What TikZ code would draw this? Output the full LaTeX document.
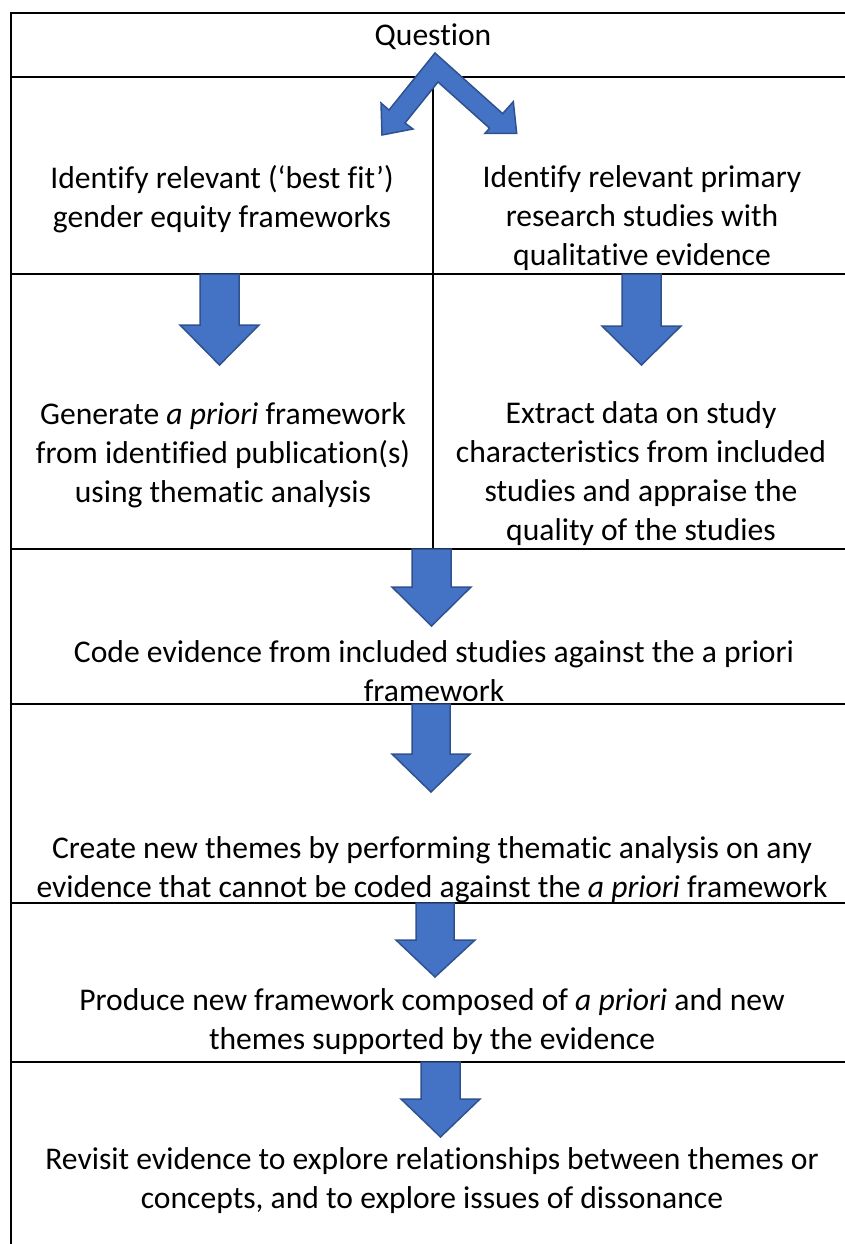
\documentclass[tikz,border=0pt]{standalone}
\usepackage{fontspec}
\setmainfont{Carlito}[Ligatures=NoCommon]
\definecolor{arrowblue}{HTML}{4472C4}
\definecolor{arrowedge}{HTML}{2F528F}
\tikzset{
  steptext/.style={align=center, font=\fontsize{15.8}{19.5}\selectfont, inner sep=0pt},
  blockarrow/.style={fill=arrowblue, draw=arrowedge, line width=0.75pt, line join=miter},
  gridline/.style={line width=1pt}
}

\begin{document}
\begin{tikzpicture}[x=0.5pt,y=-0.5pt]
    \useasboundingbox (0,0) rectangle (845,1244);
    % table lines
    \draw [gridline] (11,1244) -- (11,13) -- (845,13);
    \draw [gridline] (11,77) -- (845,77);
    \draw [gridline] (11,274) -- (845,274);
    \draw [gridline] (11,549) -- (845,549);
    \draw [gridline] (11,704) -- (845,704);
    \draw [gridline] (11,903) -- (845,903);
    \draw [gridline] (11,1062) -- (845,1062);
    \draw [gridline] (433,77) -- (433,549);
    % texts
    \node [steptext] (question) at (433,37) {Question};
    \node [steptext] (idframework) at (222,199) {Identify relevant (‘best fit’)\\gender equity frameworks};
    \node [steptext] (idstudies) at (642,218) {Identify relevant primary\\research studies with\\qualitative evidence};
    \node [steptext] (genframework) at (223,455) {Generate \textit{a priori} framework\\from identified publication(s)\\using thematic analysis};
    \node [steptext] (extract) at (641,474) {Extract data on study\\characteristics from included\\studies and appraise the\\quality of the studies};
    \node [steptext] (code) at (434,671) {Code evidence from included studies against the a priori\\framework};
    \node [steptext] (newthemes) at (432,870) {Create new themes by performing thematic analysis on any\\evidence that cannot be coded against the \textit{a priori} framework};
    \node [steptext] (newframework) at (432,1022) {Produce new framework composed of \textit{a priori} and new\\themes supported by the evidence};
    \node [steptext] (revisit) at (432,1181) {Revisit evidence to explore relationships between themes or\\concepts, and to explore issues of dissonance};
    % split arrow below the question
    \draw [blockarrow] (435,53) -- (389,110) -- (381,103) -- (382,135) -- (413,129) -- (405,123) -- (438,82)
        -- (489.6,128.2) -- (485,133.3) -- (516.7,133.3) -- (513.3,101.7) -- (502.6,113.6) -- cycle;
    % down arrows
    \draw [blockarrow] (200,274) -- (239,274) -- (239,325) -- (259,325) -- (219.5,365) -- (180,325) -- (200,325) -- cycle;
    \draw [blockarrow] (622,274) -- (661,274) -- (661,326) -- (681,326) -- (641.5,365) -- (602,326) -- (622,326) -- cycle;
    \draw [blockarrow] (412,549) -- (451,549) -- (451,587) -- (471,587) -- (431.5,626) -- (392,587) -- (412,587) -- cycle;
    \draw [blockarrow] (412,704) -- (450,704) -- (450,754) -- (470,754) -- (431,792) -- (392,754) -- (412,754) -- cycle;
    \draw [blockarrow] (416,903) -- (454,903) -- (454,940) -- (475,940) -- (435,977) -- (396,940) -- (416,940) -- cycle;
    \draw [blockarrow] (421,1062) -- (460,1062) -- (460,1099) -- (480,1099) -- (440.5,1137) -- (401,1099) -- (421,1099) -- cycle;
\end{tikzpicture}
\end{document}
